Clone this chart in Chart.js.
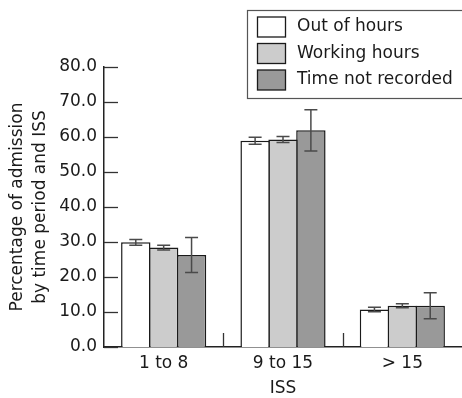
<!DOCTYPE html>
<html><head><meta charset="utf-8">
<script src="https://cdn.jsdelivr.net/npm/chart.js@4/dist/chart.umd.min.js"></script>
<style>html,body{margin:0;padding:0;background:#fff}</style>
</head><body>
<canvas id="c" width="462" height="398"></canvas>
<script>
const categories = ['1 to 8', '9 to 15', '> 15'];
const seriesNames = ['Out of hours', 'Working hours', 'Time not recorded'];
const outOfHours = [29.9, 58.9, 10.7];
const outOfHoursErr = [0.85, 1.0, 0.65];
const workingHours = [28.4, 59.3, 11.8];
const workingHoursErr = [0.7, 0.85, 0.55];
const notRecorded = [26.3, 61.9, 11.8];
const notRecordedErr = [5.0, 5.9, 3.7];
const yMin = 0, yMax = 80, yStep = 10;
const xTitle = 'ISS';
const yTitle = ['Percentage of admission', 'by time period and ISS'];

const FONT = "'DejaVu Sans', sans-serif";
const FS = 17;
const INK = '#1a1a1a';
const fills = ['#ffffff', '#cccccc', '#999999'];

const customDraw = {
  id: 'customDraw',
  afterDatasetsDraw(chart) {
    const {ctx, chartArea: a, scales: {x, y}} = chart;
    ctx.save();
    ctx.strokeStyle = '#333';
    ctx.lineWidth = 1.3;
    // inward y ticks
    y.ticks.forEach(t => {
      const py = Math.round(y.getPixelForValue(t.value)) + 0.5;
      ctx.beginPath(); ctx.moveTo(a.left, py); ctx.lineTo(a.left + 14, py); ctx.stroke();
    });
    // inward x separators
    for (let i = 0; i < categories.length - 1; i++) {
      const px = Math.round((x.getPixelForValue(i) + x.getPixelForValue(i + 1)) / 2) + 0.5;
      ctx.beginPath(); ctx.moveTo(px, a.bottom); ctx.lineTo(px, a.bottom - 14); ctx.stroke();
    }
    // error bars
    ctx.strokeStyle = '#4a4a4a';
    ctx.lineWidth = 1.5;
    chart.data.datasets.forEach((ds, di) => {
      const meta = chart.getDatasetMeta(di);
      meta.data.forEach((bar, i) => {
        const v = ds.data[i], e = ds.errors[i];
        const t = y.getPixelForValue(v + e), b = y.getPixelForValue(v - e);
        const cx = bar.x, hw = 6.5;
        ctx.beginPath();
        ctx.moveTo(cx, t); ctx.lineTo(cx, b);
        ctx.moveTo(cx - hw, t); ctx.lineTo(cx + hw, t);
        ctx.moveTo(cx - hw, b); ctx.lineTo(cx + hw, b);
        ctx.stroke();
      });
    });
    ctx.restore();
  },
  afterDraw(chart) {
    const {ctx} = chart;
    ctx.save();
    // legend frame (open on the right)
    ctx.fillStyle = '#fff';
    ctx.fillRect(247.5, 10.5, 230, 88);
    ctx.strokeStyle = '#555';
    ctx.lineWidth = 1.2;
    ctx.strokeRect(247.5, 10.5, 230, 88);
    const rows = [27, 53.5, 80];
    ctx.font = FS + 'px ' + FONT;
    ctx.textBaseline = 'middle';
    ctx.textAlign = 'left';
    chart.data.datasets.forEach((ds, i) => {
      const cy = rows[i];
      ctx.fillStyle = ds.backgroundColor;
      ctx.fillRect(257.5, cy - 10, 28, 20);
      ctx.strokeStyle = INK;
      ctx.lineWidth = 1.3;
      ctx.strokeRect(257.5, cy - 10, 28, 20);
      ctx.fillStyle = INK;
      ctx.fillText(ds.label, 297, cy);
    });
    ctx.restore();
  }
};

const mk = (label, data, errors, color) => ({
  label, data, errors,
  backgroundColor: color,
  borderColor: INK,
  borderWidth: 1.5,
  categoryPercentage: 0.701,
  barPercentage: 1.054
});

new Chart(document.getElementById('c'), {
  type: 'bar',
  data: {
    labels: categories,
    datasets: [
      mk(seriesNames[0], outOfHours, outOfHoursErr, fills[0]),
      mk(seriesNames[1], workingHours, workingHoursErr, fills[1]),
      mk(seriesNames[2], notRecorded, notRecordedErr, fills[2])
    ]
  },
  options: {
    responsive: false,
    devicePixelRatio: 1,
    animation: false,
    layout: {padding: {top: 67, right: 0, left: 0, bottom: 0}},
    plugins: {legend: {display: false}, tooltip: {enabled: false}},
    scales: {
      x: {
        grid: {display: false, drawTicks: false},
        border: {display: true, color: '#222', width: 1.5},
        ticks: {font: {family: FONT, size: FS}, color: INK, padding: 6, maxRotation: 0},
        title: {display: true, text: xTitle, color: INK, font: {family: FONT, size: FS, lineHeight: 1.1}, padding: {top: 0, bottom: 0}},
        afterFit(s) { s.height = 51; }
      },
      y: {
        min: yMin, max: yMax,
        grid: {display: false, drawTicks: false},
        border: {display: true, color: '#222', width: 1.5},
        ticks: {stepSize: yStep, callback: v => Number(v).toFixed(1), font: {family: FONT, size: FS}, color: INK, padding: 7},
        title: {display: true, text: yTitle, color: INK, font: {family: FONT, size: FS, lineHeight: 1.35}, padding: {top: 6, bottom: 0}},
        afterFit(s) { s.width = 104; }
      }
    }
  },
  plugins: [customDraw]
});
</script>
</body></html>
